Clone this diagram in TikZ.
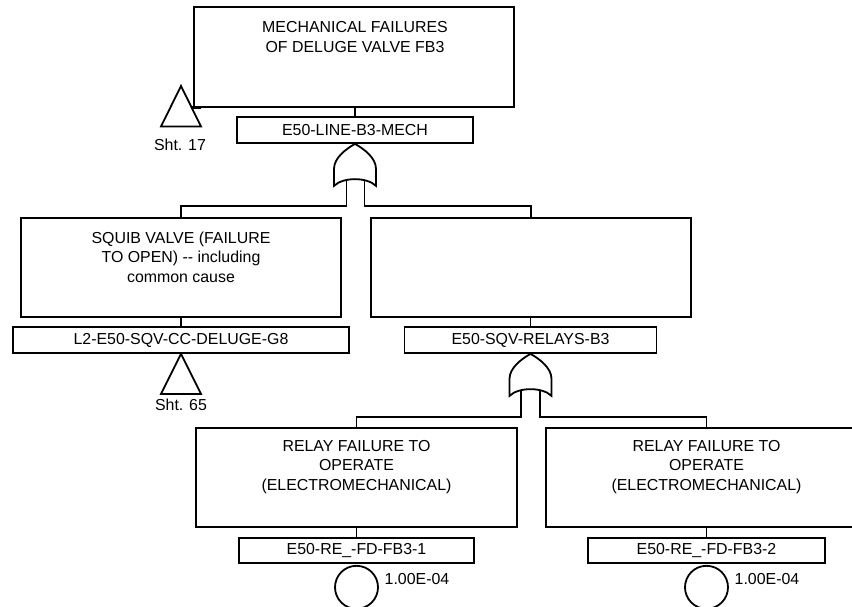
\documentclass[tikz,border=0pt]{standalone}
\usepackage{fontspec}
\setmainfont{Liberation Sans}
\newcommand\fttext{\fontsize{15.9}{19.5}\selectfont}
\begin{document}
\begin{tikzpicture}[x=1pt,y=-1pt,
  ln/.style={line width=1.8pt, line join=miter},
  evbox/.style={draw, line width=1.8pt, inner sep=0pt, minimum height=99pt},
  idbox/.style={draw, line width=1.8pt, inner sep=0pt, minimum height=26pt, font=\fttext},
  txt/.style={align=center, inner sep=0pt, font=\fttext},
  basic/.style={draw, circle, line width=1.8pt, minimum size=43pt, inner sep=0pt}]
\useasboundingbox (0,0) rectangle (852,607);
\clip (0,0) rectangle (852,607);

% top event
\node[evbox, minimum width=320pt, minimum height=100pt] (T) at (354,57) {};
\node[txt] (Tt) at (355,37) {MECHANICAL FAILURES\\OF DELUGE VALVE FB3};
\node[idbox, minimum width=236pt] (TL) at (355,130) {E50-LINE-B3-MECH};
\draw[ln] (TL.north) -- (TL.north |- T.south);
\draw[line width=2.8pt] ([xshift=-1pt]T.south west) -- ++(9,0);

% transfer triangle Sht. 17
\coordinate (tr1) at (181,86);
\draw[ln] (tr1) -- ++(20,40.5) -- ++(-40,0) -- cycle;
\node[txt] (s17) at (180,145) {Sht. 17};

% OR gate 1
\begin{scope}[shift={(TL.south)}]
\draw[ln] (0,0) .. controls (9,5) and (21,14) .. (21,25) -- (21,42) .. controls (12,33) and (-12,33) .. (-21,42) -- (-21,25) .. controls (-21,14) and (-9,5) .. (0,0) -- cycle;
\coordinate (G1l) at (-8.5,36.5);
\coordinate (G1r) at (9.5,36.5);
\end{scope}

% second level
\node[evbox, minimum width=320pt] (S) at (181,267.5) {};
\node[txt] (St) at (181,257) {SQUIB VALVE (FAILURE\\TO OPEN) -{}- including\\common cause};
\node[idbox, minimum width=336pt] (SL) at (181,340) {L2-E50-SQV-CC-DELUGE-G8};
\draw[ln] (SL.north) -- (SL.north |- S.south);
\draw[ln] (SL.south) -- ++(20,40) -- ++(-40,0) -- cycle;
\node[txt] (s65) at (181,405) {Sht. 65};

\node[evbox, minimum width=320pt] (R) at (531,267.5) {};
\node[idbox, minimum width=252pt] (RL) at (530.5,340) {E50-SQV-RELAYS-B3};
\draw[ln] (RL.north) -- (RL.north |- R.south);

\draw[ln] (G1l) |- ([yshift=11pt]S.north) -- (S.north);
\draw[ln] (G1r) |- ([yshift=11pt]R.north) -- (R.north);

% OR gate 2
\begin{scope}[shift={(RL.south)}]
\draw[ln] (0,0) .. controls (9,5) and (21,14) .. (21,25) -- (21,42) .. controls (12,33) and (-12,33) .. (-21,42) -- (-21,25) .. controls (-21,14) and (-9,5) .. (0,0) -- cycle;
\coordinate (G2l) at (-9.5,36.5);
\coordinate (G2r) at (9.5,36.5);
\end{scope}

% third level
\node[evbox, minimum width=321pt] (B1) at (356.5,477.5) {};
\node[txt] (B1t) at (356.5,467) {RELAY FAILURE TO\\OPERATE\\(ELECTROMECHANICAL)};
\node[idbox, minimum width=235pt, minimum height=25pt] (BL1) at (356.5,550.5) {E50-RE\_-FD-FB3-1};
\draw[ln] (BL1.north) -- (BL1.north |- B1.south);
\node[basic, anchor=north] (C1) at ([yshift=-1pt]BL1.south) {};
\node[txt, anchor=west] (p1) at ([xshift=28pt,yshift=8pt]C1.center) {1.00E-04};

\node[evbox, minimum width=321pt] (B2) at (706.5,477.5) {};
\node[txt] (B2t) at (706.5,467) {RELAY FAILURE TO\\OPERATE\\(ELECTROMECHANICAL)};
\node[idbox, minimum width=237pt, minimum height=25pt] (BL2) at (706.5,550.5) {E50-RE\_-FD-FB3-2};
\draw[ln] (BL2.north) -- (BL2.north |- B2.south);
\node[basic, anchor=north] (C2) at ([yshift=-1pt]BL2.south) {};
\node[txt, anchor=west] (p2) at ([xshift=28pt,yshift=8pt]C2.center) {1.00E-04};

\draw[ln] (G2l) |- ([yshift=10pt]B1.north) -- (B1.north);
\draw[ln] (G2r) |- ([yshift=10pt]B2.north) -- (B2.north);
\end{tikzpicture}
\end{document}
